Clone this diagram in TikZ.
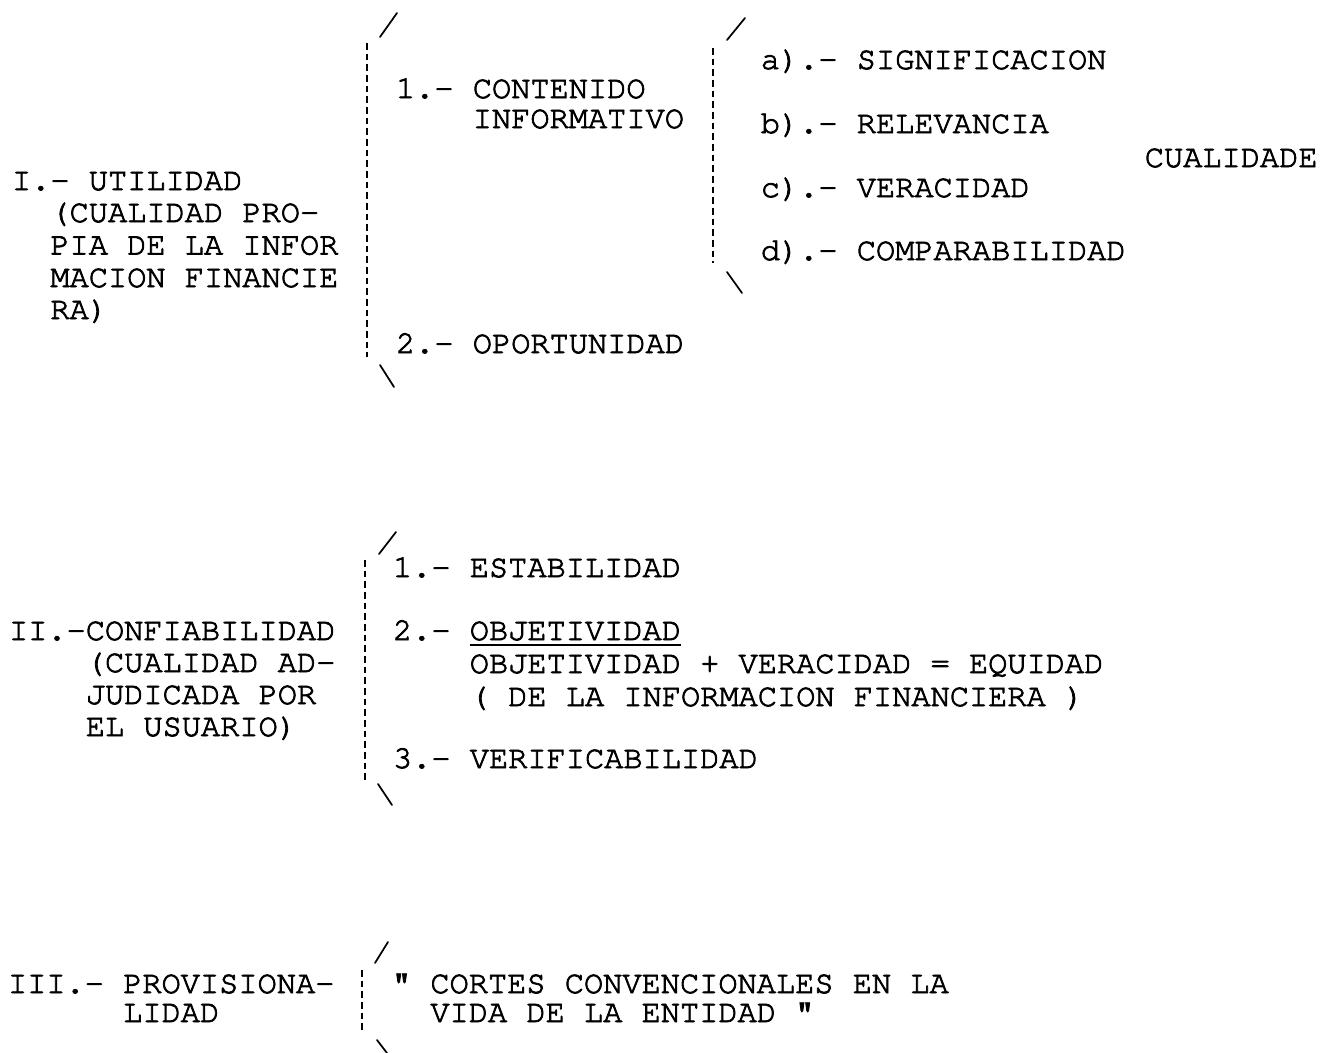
\documentclass[tikz,border=0pt]{standalone}
\usepackage[T1]{fontenc}
\usepackage{courier}
\newcommand{\heavytext}{\special{pdf:literal direct 2 Tr 0.6 w}}
\begin{document}
\begin{tikzpicture}[x=0.75pt,y=-0.75pt,
  txt/.style={anchor=base west, inner sep=0pt, outer sep=0pt,
    font=\fontfamily{pcr}\fontsize{24}{24}\selectfont,
    execute at begin node=\heavytext},
  brk/.style={line width=1.5pt, dash pattern=on 5pt off 3pt},
  tick/.style={line width=1.3pt, line cap=round},
  uline/.style={line width=0.9pt}]
\useasboundingbox[fill=white] (0,0) rectangle (1328,1053);
% ---- Section I ----
\node[txt] (u1) at (12,190) {I.- UTILIDAD};
\node[txt] (u2) at (50.4,222) {(CUALIDAD PRO-};
\node[txt] (u3) at (50.4,254.5) {PIA DE LA INFOR};
\node[txt] (u4) at (50.4,287) {MACION FINANCIE};
\node[txt] (u5) at (50.4,319) {RA)};
\node[txt] (c1) at (396,98) {1.- CONTENIDO};
\node[txt] (c2) at (472.8,128) {INFORMATIVO};
\node[txt] (op) at (396,353) {2.- OPORTUNIDAD};
\node[txt] (sa) at (760.8,69) {a).- SIGNIFICACION};
\node[txt] (sb) at (760.8,133) {b).- RELEVANCIA};
\node[txt] (sc) at (760.8,197) {c).- VERACIDAD};
\node[txt] (sd) at (760.8,260) {d).- COMPARABILIDAD};
\node[txt] (cu) at (1144.8,167) {CUALIDADE};
\coordinate (b1t) at (367,43); \coordinate (b1b) at (367,357);
\draw[brk] (b1t) -- (b1b);
\draw[tick] (380,37) -- (397,13);
\draw[tick] (380,365) -- (394,387);
\coordinate (b2t) at (713,48); \coordinate (b2b) at (713,263);
\draw[brk] (b2t) -- (b2b);
\draw[tick] (727,40) -- (745,18);
\draw[tick] (727,272) -- (742,293);
% ---- Section II ----
\node[txt] (k1) at (9,640) {II.-CONFIABILIDAD};
\node[txt] (k2) at (85.8,672) {(CUALIDAD AD-};
\node[txt] (k3) at (85.8,704) {JUDICADA POR};
\node[txt] (k4) at (85.8,736) {EL USUARIO)};
\node[txt] (e1) at (393,577) {1.- ESTABILIDAD};
\node[txt] (e2) at (393,640) {2.-};
\node[txt] (e2b) at (469.8,640) {OBJETIVIDAD};
\draw[uline] ([yshift=-3.75pt]e2b.base west) -- ([yshift=-3.75pt]e2b.base east);
\node[txt] (e3) at (469.8,673) {OBJETIVIDAD + VERACIDAD = EQUIDAD};
\node[txt] (e4) at (469.8,706) {( DE LA INFORMACION FINANCIERA )};
\node[txt] (e5) at (393,768) {3.- VERIFICABILIDAD};
\coordinate (b3t) at (365,560); \coordinate (b3b) at (365,780);
\draw[brk] (b3t) -- (b3b);
\draw[tick] (379,554) -- (396,532);
\draw[tick] (378,784) -- (392,805);
% ---- Section III ----
\node[txt] (p1) at (8,993) {III.- PROVISIONA-};
\node[txt] (p2) at (123.2,1022) {LIDAD};
\node[txt] (q0) at (392,993) {"};
\node[txt] (q1) at (430.4,993) {CORTES CONVENCIONALES EN LA};
\node[txt] (q2) at (430.4,1022) {VIDA DE LA ENTIDAD "};
\coordinate (b4t) at (362,970); \coordinate (b4b) at (362,1032);
\draw[brk] (b4t) -- (b4b);
\draw[tick] (375,963) -- (388,942);
\draw[tick] (377,1040) -- (387,1053);
\end{tikzpicture}
\end{document}
